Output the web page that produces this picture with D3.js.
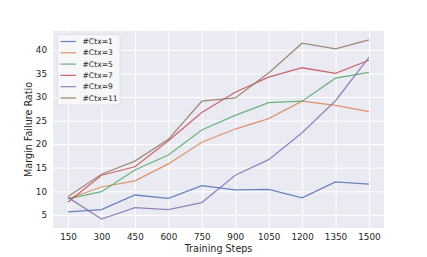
<!DOCTYPE html>
<html>
<head>
<meta charset="utf-8">
<script src="https://cdn.jsdelivr.net/npm/d3@7"></script>
<style>
  html, body { margin: 0; padding: 0; background: #fff; }
  svg text { font-family: "DejaVu Sans", sans-serif; fill: #262626; }
</style>
</head>
<body>
<div id="chart"></div>
<script>
const steps = [150, 300, 450, 600, 750, 900, 1050, 1200, 1350, 1500];
const seriesNames = ["#Ctx=1", "#Ctx=3", "#Ctx=5", "#Ctx=7", "#Ctx=9", "#Ctx=11"];
const ctx1 = [5.6, 6.1, 9.2, 8.5, 11.2, 10.3, 10.4, 8.6, 12.0, 11.5];
const ctx3 = [8.4, 10.9, 12.2, 15.8, 20.4, 23.2, 25.4, 29.1, 28.2, 26.9];
const ctx5 = [8.4, 9.9, 14.5, 17.7, 23.0, 26.1, 28.8, 29.1, 34.0, 35.2];
const ctx7 = [7.7, 13.4, 15.2, 20.7, 26.7, 31.0, 34.2, 36.2, 35.0, 37.8];
const ctx9 = [8.7, 4.1, 6.5, 6.1, 7.6, 13.4, 16.7, 22.4, 29.2, 38.4];
const ctx11 = [8.9, 13.6, 16.4, 21.0, 29.1, 29.8, 35.1, 41.4, 40.2, 42.1];
const yTicks = [5, 10, 15, 20, 25, 30, 35, 40];
const colors = ["#4c72b0", "#dd8452", "#55a868", "#c44e52", "#8172b3", "#937860"];

const series = [ctx1, ctx3, ctx5, ctx7, ctx9, ctx11];

const W = 427, H = 257;
const margin = { top: 31, right: 43, bottom: 29, left: 53 };
const width = W - margin.left - margin.right;
const height = H - margin.top - margin.bottom;

const svg = d3.select("#chart").append("svg")
  .attr("width", W)
  .attr("height", H);

const g = svg.append("g")
  .attr("transform", `translate(${margin.left},${margin.top})`);

// matplotlib style 5% padding
const xMin = d3.min(steps), xMax = d3.max(steps);
const xPad = (xMax - xMin) * 0.05;
const x = d3.scaleLinear().domain([xMin - xPad, xMax + xPad]).range([0, width]);

const all = series.flat();
const yMin = d3.min(all), yMax = d3.max(all);
const yPad = (yMax - yMin) * 0.05;
const y = d3.scaleLinear().domain([yMin - yPad, yMax + yPad]).range([height, 0]);

g.append("rect")
  .attr("width", width)
  .attr("height", height)
  .attr("fill", "#eaeaf2");

// gridlines
g.append("g")
  .call(d3.axisBottom(x).tickValues(steps).tickSize(height).tickFormat(() => ""))
  .call(s => s.select(".domain").remove())
  .selectAll("line")
    .attr("stroke", "#fff")
    .attr("stroke-width", 1);

g.append("g")
  .call(d3.axisLeft(y).tickValues(yTicks).tickSize(-width).tickFormat(() => ""))
  .call(s => s.select(".domain").remove())
  .selectAll("line")
    .attr("stroke", "#fff")
    .attr("stroke-width", 1);

// tick labels
g.append("g")
  .attr("transform", `translate(0,${height})`)
  .call(d3.axisBottom(x).tickValues(steps).tickSize(0).tickPadding(6).tickFormat(d3.format("d")))
  .call(s => s.select(".domain").remove())
  .selectAll("text")
    .style("font-size", "8.8px")
    .style("fill", "#262626");

g.append("g")
  .call(d3.axisLeft(y).tickValues(yTicks).tickSize(0).tickPadding(6))
  .call(s => s.select(".domain").remove())
  .selectAll("text")
    .style("font-size", "8.8px")
    .style("fill", "#262626");

// axis labels
svg.append("text")
  .attr("x", margin.left + width / 2)
  .attr("y", 252)
  .attr("text-anchor", "middle")
  .style("font-size", "9.6px")
  .text("Training Steps");

svg.append("text")
  .attr("transform", `translate(32,${margin.top + height / 2}) rotate(-90)`)
  .attr("text-anchor", "middle")
  .style("font-size", "9.6px")
  .text("Margin Failure Ratio");

// lines
const line = d3.line()
  .x((d, i) => x(steps[i]))
  .y(d => y(d));

g.selectAll(".series")
  .data(series)
  .join("path")
    .attr("class", "series")
    .attr("fill", "none")
    .attr("stroke", (d, i) => colors[i])
    .attr("stroke-width", 1.25)
    .attr("stroke-opacity", 0.85)
    .attr("d", line);

// legend
const legend = svg.append("g").attr("transform", "translate(57.5,34.5)");
legend.append("rect")
  .attr("width", 62.5)
  .attr("height", 70.5)
  .attr("rx", 2)
  .attr("fill", "#f7f7fa")
  .attr("stroke", "#dcdce4")
  .attr("stroke-width", 0.8);

const items = legend.selectAll(".item")
  .data(seriesNames)
  .join("g")
    .attr("class", "item")
    .attr("transform", (d, i) => `translate(0,${7 + i * 11.3})`);

items.append("line")
  .attr("x1", 3)
  .attr("x2", 18.5)
  .attr("stroke", (d, i) => colors[i])
  .attr("stroke-width", 1.25)
  .attr("stroke-opacity", 0.85);

items.append("text")
  .attr("x", 25)
  .attr("dy", "0.35em")
  .style("font-size", "7.6px")
  .text(d => d);
</script>
</body>
</html>
